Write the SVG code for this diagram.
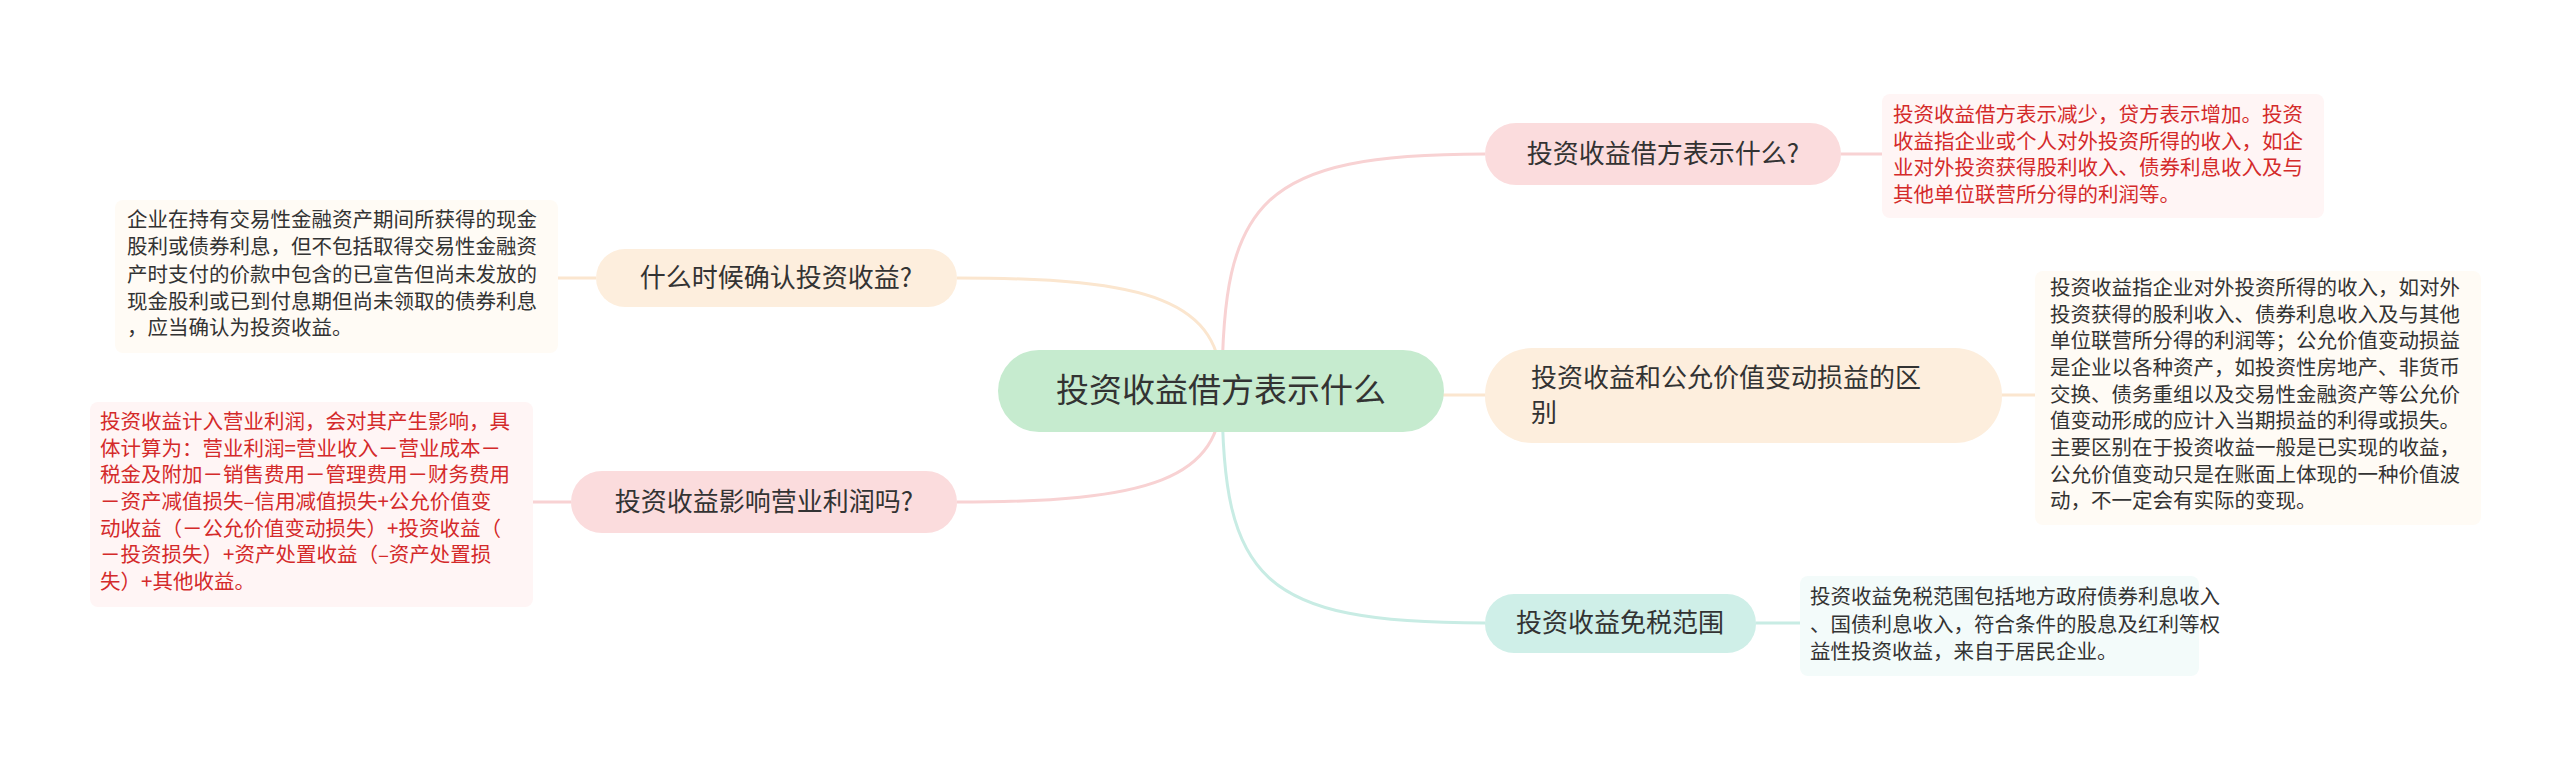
<svg xmlns="http://www.w3.org/2000/svg" width="2560" height="763" viewBox="0 0 2560 763">
<style>
text{font-family:"Noto Sans CJK SC","Noto Sans",sans-serif;fill:#333}
.n{font-size:26px;text-anchor:middle}
.d{font-size:20.5px}
.r{fill:#d42a2a}
.c{fill:none;stroke-width:3}
</style>
<rect width="2560" height="763" fill="#fff"/>
<g id="connectors">
<path class="c" stroke="#f8d2d3" d="M1222,391 C1222,200 1260,154 1485,154"/>
<path class="c" stroke="#fbe6cf" d="M1222,391 C1240,395 1300,395 1485,395"/>
<path class="c" stroke="#c8ece4" d="M1222,391 C1222,580 1260,623 1485,623"/>
<path class="c" stroke="#fbe6cf" d="M1222,391 C1222,300 1150,278 957,278"/>
<path class="c" stroke="#f8d2d3" d="M1222,391 C1222,480 1150,502 957,502"/>
<path class="c" stroke="#f8d2d3" d="M1841,154 H1882"/>
<path class="c" stroke="#fbe6cf" d="M2002,395 H2035"/>
<path class="c" stroke="#c8ece4" d="M1756,623 H1800"/>
<path class="c" stroke="#fbe6cf" d="M596,278 H558"/>
<path class="c" stroke="#f8d2d3" d="M571,502 H533"/>
</g>
<g id="center"><rect x="998" y="350" width="446" height="82" rx="41" fill="#c6ebcf"/><text x="1221" y="402" font-size="33" text-anchor="middle">投资收益借方表示什么</text></g>
<g id="r1"><rect x="1485" y="123" width="356" height="62" rx="31" fill="#fbdcdd"/><text class="n" x="1663" y="163">投资收益借方表示什么?</text></g>
<g id="r1t"><rect x="1882" y="94" width="442" height="124" rx="8" fill="#fff5f5"/>
<text class="d r" x="1893" y="122">投资收益借方表示减少，贷方表示增加。投资</text>
<text class="d r" x="1893" y="149">收益指企业或个人对外投资所得的收入，如企</text>
<text class="d r" x="1893" y="175">业对外投资获得股利收入、债券利息收入及与</text>
<text class="d r" x="1893" y="202">其他单位联营所分得的利润等。</text></g>
<g id="r2"><rect x="1485" y="348" width="517" height="95" rx="47" fill="#fdeedd"/>
<text font-size="26" x="1531" y="387">投资收益和公允价值变动损益的区</text>
<text font-size="26" x="1531" y="422">别</text></g>
<g id="r2t"><rect x="2035" y="271" width="446" height="254" rx="8" fill="#fffbf5"/>
<text class="d" x="2050" y="295">投资收益指企业对外投资所得的收入，如对外</text>
<text class="d" x="2050" y="322">投资获得的股利收入、债券利息收入及与其他</text>
<text class="d" x="2050" y="348">单位联营所分得的利润等；公允价值变动损益</text>
<text class="d" x="2050" y="375">是企业以各种资产，如投资性房地产、非货币</text>
<text class="d" x="2050" y="402">交换、债务重组以及交易性金融资产等公允价</text>
<text class="d" x="2050" y="428">值变动形成的应计入当期损益的利得或损失。</text>
<text class="d" x="2050" y="455">主要区别在于投资收益一般是已实现的收益，</text>
<text class="d" x="2050" y="482">公允价值变动只是在账面上体现的一种价值波</text>
<text class="d" x="2050" y="508">动，不一定会有实际的变现。</text></g>
<g id="r3"><rect x="1485" y="594" width="271" height="59" rx="29" fill="#cfefe8"/><text class="n" x="1620" y="632">投资收益免税范围</text></g>
<g id="r3t"><rect x="1800" y="576" width="399" height="100" rx="8" fill="#f3fbfa"/>
<text class="d" x="1810" y="604">投资收益免税范围包括地方政府债券利息收入</text>
<text class="d" x="1810" y="632">、国债利息收入，符合条件的股息及红利等权</text>
<text class="d" x="1810" y="659">益性投资收益，来自于居民企业。</text></g>
<g id="l1"><rect x="596" y="249" width="361" height="58" rx="29" fill="#fdeedd"/><text class="n" x="776" y="287">什么时候确认投资收益?</text></g>
<g id="l1t"><rect x="115" y="200" width="443" height="153" rx="8" fill="#fffbf5"/>
<text class="d" x="127" y="227">企业在持有交易性金融资产期间所获得的现金</text>
<text class="d" x="127" y="254">股利或债券利息，但不包括取得交易性金融资</text>
<text class="d" x="127" y="282">产时支付的价款中包含的已宣告但尚未发放的</text>
<text class="d" x="127" y="309">现金股利或已到付息期但尚未领取的债券利息</text>
<text class="d" x="127" y="335">，应当确认为投资收益。</text></g>
<g id="l2"><rect x="571" y="471" width="386" height="62" rx="31" fill="#fbdcdd"/><text class="n" x="764" y="511">投资收益影响营业利润吗?</text></g>
<g id="l2t"><rect x="90" y="402" width="443" height="205" rx="8" fill="#fff5f5"/>
<text class="d r" x="100" y="429">投资收益计入营业利润，会对其产生影响，具</text>
<text class="d r" x="100" y="456">体计算为：营业利润=营业收入－营业成本－</text>
<text class="d r" x="100" y="482">税金及附加－销售费用－管理费用－财务费用</text>
<text class="d r" x="100" y="509">－资产减值损失–信用减值损失+公允价值变</text>
<text class="d r" x="100" y="536">动收益（－公允价值变动损失）+投资收益（</text>
<text class="d r" x="100" y="562">－投资损失）+资产处置收益（–资产处置损</text>
<text class="d r" x="100" y="589">失）+其他收益。</text></g>
</svg>
